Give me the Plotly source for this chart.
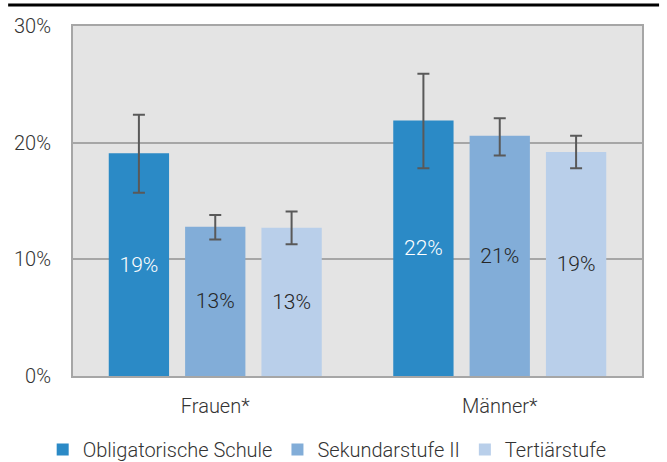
import plotly.graph_objects as go

# Anteil nach Bildungsstand, mit Konfidenzintervallen
categories = ["Frauen*", "Männer*"]
series_names = ["Obligatorische Schule", "Sekundarstufe II", "Tertiärstufe"]

obligatorisch = [19.1, 21.9]
sekundar = [12.8, 20.6]
tertiaer = [12.7, 19.2]

obligatorisch_ci_low = [15.7, 17.8]
obligatorisch_ci_high = [22.4, 25.9]
sekundar_ci_low = [11.7, 18.9]
sekundar_ci_high = [13.8, 22.1]
tertiaer_ci_low = [11.3, 17.8]
tertiaer_ci_high = [14.1, 20.6]

y_tickvals = [0, 10, 20, 30]
y_ticktext = ["0%", "10%", "20%", "30%"]

colors = ["#2b8ac6", "#82add8", "#b9cfea"]
text_colors = ["#ffffff", "#262626", "#262626"]

FONT = "Roboto"
TEXT = "#333333"

series = [
    (obligatorisch, obligatorisch_ci_low, obligatorisch_ci_high),
    (sekundar, sekundar_ci_low, sekundar_ci_high),
    (tertiaer, tertiaer_ci_low, tertiaer_ci_high),
]

fig = go.Figure()
for name, (vals, lo, hi), col, tcol in zip(series_names, series, colors, text_colors):
    fig.add_trace(go.Bar(
        x=categories,
        y=vals,
        name=name,
        marker=dict(color=col, line=dict(width=0)),
        texttemplate="%{y:.0f}%",
        textposition="inside",
        insidetextanchor="middle",
        textangle=0,
        constraintext="none",
        insidetextfont=dict(family=FONT, size=21, color=tcol, weight=300),
        error_y=dict(
            type="data",
            symmetric=False,
            array=[h - v for h, v in zip(hi, vals)],
            arrayminus=[v - l for l, v in zip(lo, vals)],
            color="#595959",
            thickness=2,
            width=6,
        ),
        hoverinfo="skip",
    ))

fig.update_layout(
    width=667,
    height=462,
    margin=dict(l=73, r=25, t=26, b=86, autoexpand=False),
    paper_bgcolor="#ffffff",
    plot_bgcolor="#e4e4e4",
    barmode="group",
    bargap=0.195,
    bargroupgap=0.21,
    font=dict(family=FONT, size=20, color=TEXT, weight=300),
    showlegend=True,
    legend=dict(
        orientation="h",
        xref="container",
        yref="container",
        x=0.064,
        xanchor="left",
        y=0.027,
        yanchor="middle",
        font=dict(family=FONT, size=20, color=TEXT, weight=300),
        bgcolor="rgba(0,0,0,0)",
        itemclick=False,
        itemdoubleclick=False,
    ),
    xaxis=dict(
        showgrid=False,
        showline=True,
        linecolor="#a6a6a6",
        linewidth=2,
        mirror=True,
        ticks="",
        ticklabelstandoff=11,
        tickfont=dict(family=FONT, size=20, color=TEXT, weight=300),
        fixedrange=True,
    ),
    yaxis=dict(
        range=[0, 30],
        tickvals=y_tickvals,
        ticktext=y_ticktext,
        showgrid=True,
        gridcolor="#a6a6a6",
        gridwidth=2,
        showline=True,
        linecolor="#a6a6a6",
        linewidth=2,
        mirror=True,
        zeroline=False,
        ticks="",
        ticklabelstandoff=16,
        tickfont=dict(family=FONT, size=20, color=TEXT, weight=300),
        fixedrange=True,
    ),
)

# Schwarze Trennlinie oberhalb der Grafik
fig.add_shape(
    type="line",
    xref="paper", yref="paper",
    x0=-0.114, x1=1.03, y0=1.06, y1=1.06,
    line=dict(color="#000000", width=3),
)

fig.write_html("out.html", config={"displayModeBar": False})
